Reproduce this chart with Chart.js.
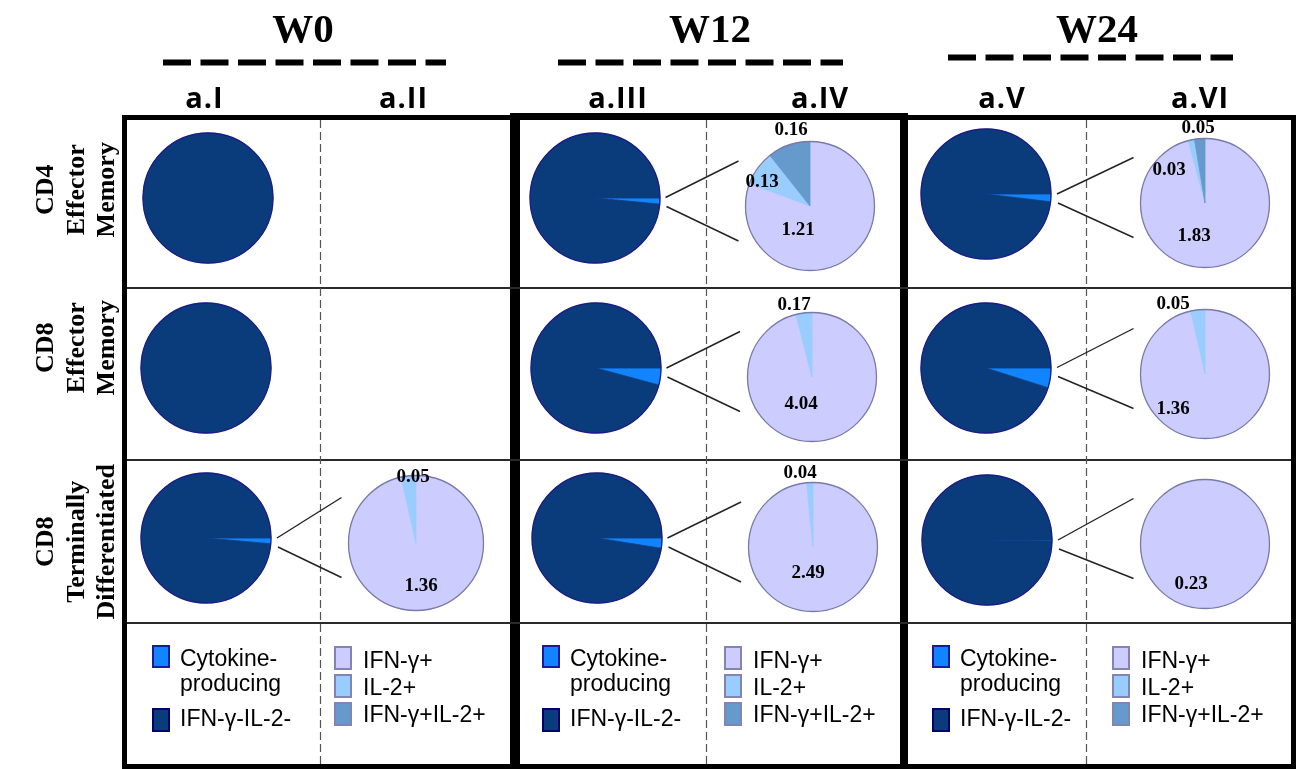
<!DOCTYPE html>
<html>
<head>
<meta charset="utf-8">
<script src="https://cdn.jsdelivr.net/npm/chart.js@4.4.1/dist/chart.umd.min.js"></script>
<style>
  html, body { margin: 0; padding: 0; background: #ffffff; }
  #stage { position: relative; width: 1298px; height: 769px; overflow: hidden; background: #ffffff; }
  #frame { position: absolute; left: 0; top: 0; }
  .pie { position: absolute; }
  .txt { position: absolute; white-space: nowrap; color: #000; }
  .week { font: bold 41px "Liberation Serif", serif; line-height: 41px; transform: translateX(-50%); }
  .panel { font: 700 29px "Open Sans", sans-serif; line-height: 29px; letter-spacing: 1px; transform: translateX(-50%); }
  .subset { font: bold 26px "Liberation Serif", serif; line-height: 30.5px; text-align: center;
            width: 220px; height: 91.5px; transform: rotate(-90deg); }
  .legtxt { font: 23px "Liberation Sans", Arial, sans-serif; line-height: 25px; }
  .sw { position: absolute; box-sizing: border-box; border: 2px solid; }
</style>
</head>
<body>
<div id="stage"><canvas id="frame" width="1298" height="769"></canvas></div>
<script>
// ---- data -------------------------------------------------------------
const weeks = ['W0', 'W12', 'W24'];
const panelNames = ['a.I', 'a.II', 'a.III', 'a.IV', 'a.V', 'a.VI'];
const subsetLines = [
  ['CD4', 'Effector', 'Memory'],
  ['CD8', 'Effector', 'Memory'],
  ['CD8', 'Terminally', 'Differentiated']
];
const overviewLabels = ['Cytokine-producing', 'IFN-γ-IL-2-'];
const breakdownLabels = ['IFN-γ+', 'IL-2+', 'IFN-γ+IL-2+'];

// % cytokine-producing cells (rows: subsets, columns: weeks)
const cytokinePct = [
  [0,    1.50, 1.91],
  [0,    4.21, 4.90],
  [1.41, 2.53, 0.23]
];
// breakdown of the cytokine-producing fraction (%); null = no breakdown pie
const ifngPct = [
  [null, 1.21, 1.83],
  [null, 4.04, 1.36],
  [1.36, 2.49, 0.23]
];
const il2Pct = [
  [null, 0.13, 0.03],
  [null, 0.17, 0.05],
  [0.05, 0.04, 0]
];
const bothPct = [
  [null, 0.16, 0.05],
  [null, 0,    0],
  [0,    0,    0]
];

// ---- styling & layout ---------------------------------------------------
const COLORS = {
  negative: '#0a3c7c', cytokine: '#1384ff',
  ifng: '#ccccff', il2: '#99ccff', both: '#6699cc',
  navyEdge: '#1c1c86', lavEdge: '#7a7aaa',
  swCyto: '#1a1aa0', swNeg: '#000070', swLav: '#8484b4'
};
const overviewCentres = [
  [[207.5, 197.5], [594.5, 197.5], [986, 194]],
  [[206, 368],     [595.5, 368],   [986, 367.5]],
  [[206, 538],     [596.5, 538],   [987, 540]]
];
const breakdownCentres = [
  [null,           [810, 206],     [1205, 202.5]],
  [null,           [811.5, 376.5], [1205, 373.5]],
  [[416, 542.5],   [812.5, 547],   [1205, 543.5]]
];
const breakdownRadius = [[0, 64.5, 64.5], [0, 64.5, 64.5], [67.5, 64.5, 64.5]];
// value-tag placement relative to the pie centre: [IFN-γ+, IL-2+, IFN-γ+IL-2+]
const tagOffsets = [
  [null, [[-12, 24], [-48, -24], [-19, -76]], [[-11, 33], [-36, -33], [-7, -75]]],
  [null, [[-11, 27], [-18, -72], null],       [[-32, 35], [-32, -70], null]],
  [[[5, 43], [-3, -66], null], [[-5, 26], [-13, -74], null], [[-14, 40], null, null]]
];
const weekCentres = [303, 710, 1097];
const panelCentres = [204.5, 403.5, 618, 820, 1002, 1200];
const subsetCentres = [190, 348, 542];
const subsetX = 76;
const blockLeft = [125, 515, 905];
const breakdownLegendX = [334, 724, 1112];

const stage = document.getElementById('stage');

// ---- frame: grid, header rules, connectors --------------------------------
(function drawFrame() {
  const ctx = document.getElementById('frame').getContext('2d');
  ctx.fillStyle = '#000';
  ctx.fillRect(122, 115, 1174, 5);          // top edge
  ctx.fillRect(512, 113, 396, 7);           // heavier W12 box top
  ctx.fillRect(122, 115, 5, 654);           // left edge
  ctx.fillRect(1291, 115, 5, 654);          // right edge
  ctx.fillRect(510, 113, 10, 656);          // W0 | W12
  ctx.fillRect(900, 113, 8, 656);           // W12 | W24
  ctx.fillRect(122, 764, 1174, 5);          // bottom edge
  ctx.fillStyle = '#2a2a2a';
  [287, 459, 622].forEach(y => ctx.fillRect(127, y, 1164, 2));

  ctx.strokeStyle = '#555';
  ctx.lineWidth = 1.2;
  ctx.setLineDash([8, 4]);
  [320.5, 706.5, 1086.5].forEach(x => {
    ctx.beginPath(); ctx.moveTo(x, 120); ctx.lineTo(x, 764); ctx.stroke();
  });

  ctx.strokeStyle = '#000';
  ctx.lineWidth = 6;
  ctx.setLineDash([28, 9.5]);
  [[163, 446, 62.5], [558, 843, 62.5], [948, 1233, 57.5]].forEach(([x0, x1, y]) => {
    ctx.beginPath(); ctx.moveTo(x0, y); ctx.lineTo(x1, y); ctx.stroke();
  });

  ctx.setLineDash([]);
  ctx.strokeStyle = '#222';
  ctx.lineWidth = 1.4;
  for (let r = 0; r < 3; r++) {
    for (let w = 0; w < 3; w++) {
      const b = breakdownCentres[r][w];
      if (!b) continue;
      const o = overviewCentres[r][w];
      const rr = breakdownRadius[r][w];
      ctx.beginPath(); ctx.moveTo(o[0] + 71, o[1] + 0); ctx.lineTo(b[0] - rr - 7, b[1] - 45); ctx.stroke();
      ctx.beginPath(); ctx.moveTo(o[0] + 72, o[1] + 9); ctx.lineTo(b[0] - rr - 7, b[1] + 35); ctx.stroke();
    }
  }
})();

// ---- chart helpers --------------------------------------------------------
function outlinePlugin(color, width) {
  return {
    id: 'outline',
    afterDatasetsDraw(chart) {
      const arc = chart.getDatasetMeta(0).data[0];
      if (!arc) return;
      const ctx = chart.ctx;
      ctx.save();
      ctx.beginPath();
      ctx.arc(arc.x, arc.y, arc.outerRadius, 0, Math.PI * 2);
      ctx.lineWidth = width;
      ctx.strokeStyle = color;
      ctx.stroke();
      ctx.restore();
    }
  };
}

function valueTagPlugin(offsets) {
  return {
    id: 'valueTags',
    afterDatasetsDraw(chart) {
      if (!offsets) return;
      const meta = chart.getDatasetMeta(0);
      const values = chart.data.datasets[0].data;
      const ctx = chart.ctx;
      ctx.save();
      ctx.font = 'bold 19px "Liberation Serif", serif';
      ctx.fillStyle = '#000';
      ctx.textAlign = 'center';
      ctx.textBaseline = 'middle';
      values.forEach((v, i) => {
        if (!v || !offsets[i]) return;
        const a = meta.data[i];
        ctx.fillText(v.toFixed(2), a.x + offsets[i][0], a.y + offsets[i][1]);
      });
      ctx.restore();
    }
  };
}

const PIE_BOX = 200;
function makePie(centre, radius, labels, values, colors, rotation, edge, offsets) {
  const c = document.createElement('canvas');
  c.className = 'pie';
  c.width = PIE_BOX; c.height = PIE_BOX;
  c.style.left = (centre[0] - PIE_BOX / 2) + 'px';
  c.style.top = (centre[1] - PIE_BOX / 2) + 'px';
  stage.appendChild(c);
  return new Chart(c, {
    type: 'pie',
    data: {
      labels: labels,
      datasets: [{
        data: values,
        backgroundColor: colors,
        borderColor: colors,
        borderWidth: ctx => (ctx.raw > 0 ? 0.8 : 0)
      }]
    },
    options: {
      responsive: false,
      animation: false,
      events: [],
      radius: radius,
      rotation: rotation,
      layout: { padding: 0 },
      plugins: { legend: { display: false }, tooltip: { enabled: false } }
    },
    plugins: [outlinePlugin(edge, 1.3), valueTagPlugin(offsets)]
  });
}

for (let r = 0; r < 3; r++) {
  for (let w = 0; w < 3; w++) {
    const cyto = cytokinePct[r][w];
    makePie(overviewCentres[r][w], 65, overviewLabels, [cyto, 100 - cyto],
            [COLORS.cytokine, COLORS.negative], 90, COLORS.navyEdge, null);
    if (breakdownCentres[r][w]) {
      makePie(breakdownCentres[r][w], breakdownRadius[r][w], breakdownLabels,
              [ifngPct[r][w], il2Pct[r][w], bothPct[r][w]],
              [COLORS.ifng, COLORS.il2, COLORS.both], 0, COLORS.lavEdge, tagOffsets[r][w]);
    }
  }
}

// ---- text -----------------------------------------------------------------
function addDiv(cls, html, left, top) {
  const d = document.createElement('div');
  d.className = 'txt ' + cls;
  d.innerHTML = html;
  d.style.left = left + 'px';
  d.style.top = top + 'px';
  stage.appendChild(d);
  return d;
}
// baseline -> top for line-height equal to font size
weeks.forEach((w, i) => addDiv('week', w, weekCentres[i], 42 - 0.8375 * 41));
panelNames.forEach((p, i) => addDiv('panel', p, panelCentres[i], 108 - 0.888 * 29));
subsetLines.forEach((lines, i) => {
  addDiv('subset', lines.join('<br>'), subsetX - 110, subsetCentres[i] - 45.75);
});

// ---- legends ----------------------------------------------------------------
function swatch(x, y, w, h, fill, edge) {
  const s = document.createElement('div');
  s.className = 'sw';
  s.style.left = x + 'px'; s.style.top = y + 'px';
  s.style.width = w + 'px'; s.style.height = h + 'px';
  s.style.background = fill; s.style.borderColor = edge;
  stage.appendChild(s);
}
const legTop = b => b - 20.1; // baseline -> top for 23px text, 25px line
for (let w = 0; w < 3; w++) {
  const x0 = blockLeft[w] + 27;
  swatch(x0, 645, 18, 23, COLORS.cytokine, COLORS.swCyto);
  addDiv('legtxt', overviewLabels[0].replace('-', '-<br>'), x0 + 28, legTop(666));
  swatch(x0, 708, 18, 24, COLORS.negative, COLORS.swNeg);
  addDiv('legtxt', overviewLabels[1], x0 + 28, legTop(726));

  const x1 = breakdownLegendX[w];
  const fills = [COLORS.ifng, COLORS.il2, COLORS.both];
  breakdownLabels.forEach((lab, k) => {
    swatch(x1, 646 + k * 28, 18, 24, fills[k], COLORS.swLav);
    addDiv('legtxt', lab, x1 + 29, legTop(668 + k * 27));
  });
}
</script>
</body>
</html>
